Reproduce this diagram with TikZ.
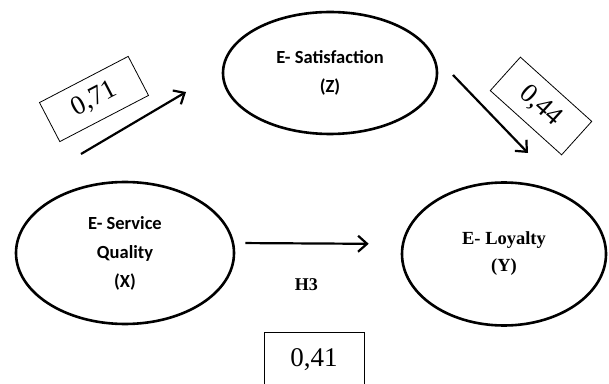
\documentclass[tikz,border=0pt]{standalone}
\usepackage{fontspec}
\setmainfont{Liberation Serif}
\newfontfamily\calibrifont{Carlito}
\usetikzlibrary{arrows.meta, positioning, shapes.geometric}

\begin{document}
\begin{tikzpicture}[x=1pt, y=1pt,
  latent/.style={ellipse, draw, line width=2.6pt, inner sep=0pt, align=center},
  sans/.style={font=\calibrifont\bfseries\fontsize{18.5}{29}\selectfont},
  serif/.style={font=\bfseries\fontsize{18.5}{27}\selectfont},
  arr/.style={-{Straight Barb[length=9pt, width=16pt]}, line width=2.2pt},
  coef/.style={rectangle, draw, line width=0.8pt, inner sep=0pt,
               minimum width=100pt, minimum height=44pt,
               font=\fontsize{27}{30}\selectfont},
  hyp/.style={font=\bfseries\fontsize{18}{20}\selectfont, inner sep=0pt}
]
\useasboundingbox (0,0) rectangle (609,383);

% constructs
\node[latent, sans, minimum width=214pt, minimum height=122pt] (sat) at (330,310) {E- Satisfaction\\(Z)};
\node[latent, sans, minimum width=218pt, minimum height=142pt] (serv) at (125,130) {E- Service\\Quality\\(X)};
\node[latent, serif, minimum width=204pt, minimum height=143pt] (loy) at (504,129) {E- Loyalty\\(Y)};

% free ends of the two upper paths
\coordinate (xz-s) at (81,229);
\coordinate (xz-e) at (186,291);
\coordinate (zy-s) at (453,308);
\coordinate (zy-e) at (528,230);

\draw[arr] (xz-s) -- (xz-e);
\draw[arr] (zy-s) -- (zy-e);
\draw[arr, shorten <=10pt, shorten >=32pt] ([yshift=10pt]serv.east) -- node[hyp, pos=0.43, below=34pt] (h3) {H3} ([yshift=10pt]loy.west);

% coefficients
\node[coef, rotate=27.5] (c71) at (94,284) {0,71};
\node[coef, rotate=-42, minimum width=96pt, minimum height=45pt] (c44) at (541,277) {0,44};
\node[coef, minimum height=56pt] (c41) at (314,23) {0,41};

\end{tikzpicture}
\end{document}
